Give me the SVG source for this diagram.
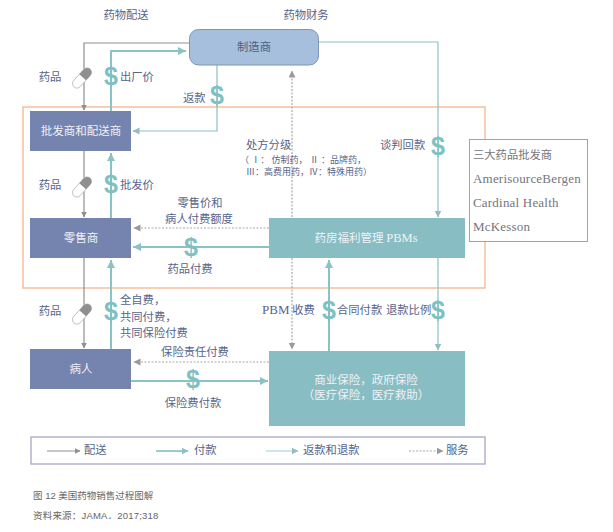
<svg xmlns="http://www.w3.org/2000/svg" width="613" height="532" viewBox="0 0 613 532">
<style>
text{font-family:"Liberation Serif","Noto Sans CJK SC",serif;font-size:11.3px;fill:#56658a}
.m{text-anchor:middle}
.w{fill:#eef2f6;font-size:11.5px}
.d{font-family:"Liberation Sans",sans-serif;font-weight:bold;font-size:25px;fill:#7fc1c3;text-anchor:middle}
.s{font-size:9px}
.g{stroke:#8f8f92;stroke-width:1.2;fill:none}
.t{stroke:#8ac3c6;stroke-width:2;fill:none}
.r{stroke:#8fbfc5;stroke-width:1.2;fill:none}
.o{stroke:#a9a9ab;stroke-width:1.2;stroke-dasharray:2 1.5;fill:none}
.b{fill:#7583af}.c{fill:#88bdc4}
.l{fill:#666;font-family:"Liberation Sans","Noto Sans CJK SC",sans-serif;font-size:9.5px}
.k{fill:#74767c;font-size:13px}
.h{font-size:11.400px}
</style>
<defs>
<g id="pill"><rect x="-4.500" y="-12" width="9" height="24" rx="4.500" fill="#fff" stroke="#b5b5b8" stroke-width="0.8"/><path d="M-4.500 -1V-7.500a4.500 4.500 0 0 1 9 0V-1z" fill="#8f8f92"/></g>
<marker id="ag" markerWidth="7" markerHeight="7" refX="5.500" refY="3" orient="auto" markerUnits="userSpaceOnUse"><path d="M0 0L6 3L0 6z" fill="#8f8f92"/></marker>
<marker id="at" markerWidth="10" markerHeight="9" refX="8" refY="4" orient="auto" markerUnits="userSpaceOnUse"><path d="M0 0L8 4L0 8z" fill="#8ac3c6"/></marker>
<marker id="ar" markerWidth="8" markerHeight="8" refX="6.500" refY="3.500" orient="auto" markerUnits="userSpaceOnUse"><path d="M0 0L7 3.500L0 7z" fill="#8fbfc5"/></marker>
<marker id="ao" markerWidth="8" markerHeight="8" refX="6.500" refY="3.500" orient="auto" markerUnits="userSpaceOnUse"><path d="M0 0L7 3.500L0 7z" fill="#9a9a9c"/></marker>
</defs>

<rect x="23" y="107" width="462" height="181" fill="none" stroke="#f3b58d" stroke-width="1.3"/>

<g id="connectors">
<path class="g" d="M189 43H84V110" marker-end="url(#ag)"/>
<path class="t" d="M111 111V51H186" marker-end="url(#at)"/>
<path class="r" d="M217 65V131H133" marker-end="url(#ar)"/>
<path class="r" d="M319 42H438V217" marker-end="url(#ar)"/>
<path class="o" d="M292 217V71" marker-end="url(#ao)"/>
<path class="g" d="M84 151V217" marker-end="url(#ag)"/>
<path class="t" d="M111 218V153" marker-end="url(#at)"/>
<path class="o" d="M269 228H134" marker-end="url(#ao)"/>
<path class="t" d="M269 247H133" marker-end="url(#at)"/>
<path class="g" d="M84 258V348" marker-end="url(#ag)"/>
<path class="t" d="M111 349V260" marker-end="url(#at)"/>
<path class="o" d="M269 362H134" marker-end="url(#ao)"/>
<path class="t" d="M131 381H268" marker-end="url(#at)"/>
<path class="o" d="M292 258V349" marker-end="url(#ao)"/>
<path class="t" d="M329 351V260" marker-end="url(#at)"/>
<path class="r" d="M438 258V350" marker-end="url(#ar)"/>
</g>

<g id="icons">
<use href="#pill" transform="translate(82 78) rotate(42)"/>
<use href="#pill" transform="translate(82 187) rotate(42)"/>
<use href="#pill" transform="translate(82 314) rotate(42)"/>
<text class="d" x="111" y="85">$</text>
<text class="d" x="217" y="104">$</text>
<text class="d" x="111" y="193">$</text>
<text class="d" x="438" y="155">$</text>
<text class="d" x="191" y="256">$</text>
<text class="d" x="111" y="320">$</text>
<text class="d" x="193" y="388">$</text>
<text class="d" x="329" y="319">$</text>
<text class="d" x="438" y="319">$</text>
</g>

<g id="manufacturer"><rect x="189.500" y="29.500" width="129" height="35.500" rx="9" fill="#a6bfdc" stroke="#7f94b8"/><text class="m" x="254" y="51" style="fill:#4f6186">制造商</text></g>
<g id="wholesaler"><rect class="b" x="30" y="111" width="101" height="40"/><text class="m w" x="81" y="135">批发商和配送商</text></g>
<g id="retailer"><rect class="b" x="30" y="218" width="101" height="40"/><text class="m w" x="81" y="242">零售商</text></g>
<g id="patient"><rect class="b" x="30" y="349" width="101" height="40"/><text class="m w" x="81" y="373">病人</text></g>
<g id="pbm"><rect class="c" x="269" y="218" width="196" height="40"/><text class="m w" x="366" y="242">药房福利管理 <tspan font-size="12.500">PBMs</tspan></text></g>
<g id="insurance"><rect class="c" x="269" y="351" width="196" height="75"/><text class="m w" x="366" y="384">商业保险，政府保险</text><text class="m w" x="366" y="399">（医疗保险，医疗救助）</text></g>

<g id="wholesalers-box"><rect x="469.500" y="139.500" width="118" height="102" fill="#fff" stroke="#a3a3a6"/>
<text class="k" x="473" y="159" style="font-size:11.300px">三大药品批发商</text>
<text class="k" x="473" y="183" style="letter-spacing:.2px">AmerisourceBergen</text>
<text class="k" x="473" y="207" style="letter-spacing:.2px">Cardinal  Health</text>
<text class="k" x="473" y="231" style="letter-spacing:.2px">McKesson</text></g>

<g id="labels">
<text class="m" x="126" y="19">药物配送</text>
<text class="m" x="306" y="19">药物财务</text>
<text class="m" x="50" y="81">药品</text>
<text x="120" y="81">出厂价</text>
<text x="183" y="102">返款</text>
<text class="m" x="50" y="189">药品</text>
<text x="120" y="189">批发价</text>
<text x="246" y="149">处方分级</text>
<text class="s" x="240" y="163">（ Ⅰ： 仿制药， Ⅱ ：品牌药，</text>
<text class="s" x="246" y="175">Ⅲ：高费用药，Ⅳ：特殊用药）</text>
<text x="380" y="149">谈判回款</text>
<text class="m" x="200" y="207">零售价和</text>
<text class="m" x="199" y="223">病人付费额度</text>
<text class="m" x="190" y="273">药品付费</text>
<text class="m" x="50" y="315">药品</text>
<text x="120" y="304">全自费，</text>
<text x="120" y="321">共同付费，</text>
<text x="120" y="337">共同保险付费</text>
<text class="m" x="195" y="356">保险责任付费</text>
<text class="m" x="193" y="407">保险费付款</text>
<text x="262" y="314"><tspan font-size="13">PBM</tspan> 收费</text>
<text x="337" y="314">合同付款</text>
<text x="386" y="314">退款比例</text>
</g>

<g id="legend">
<rect x="31" y="437" width="454" height="27" fill="#fff" stroke="#a9aec8" stroke-width="1.4"/>
<path class="g" d="M47 451H80" marker-end="url(#ag)"/><text x="84" y="454">配送</text>
<path d="M156 451H188" stroke="#6fb4b6" stroke-width="1.4" fill="none" marker-end="url(#ar)"/><text x="194" y="454">付款</text>
<path d="M266 451H298" stroke="#afd5d6" stroke-width="1.2" fill="none" marker-end="url(#ar)"/><text x="303" y="454">返款和退款</text>
<path class="o" d="M409 451H443" marker-end="url(#ao)"/><text x="446" y="454">服务</text>
</g>

<g id="caption">
<text class="l" x="33" y="499">图 12  美国药物销售过程图解</text>
<text class="l" x="33" y="519" style="letter-spacing:.2px">资料来源：JAMA．2017;318</text>
</g>
</svg>
